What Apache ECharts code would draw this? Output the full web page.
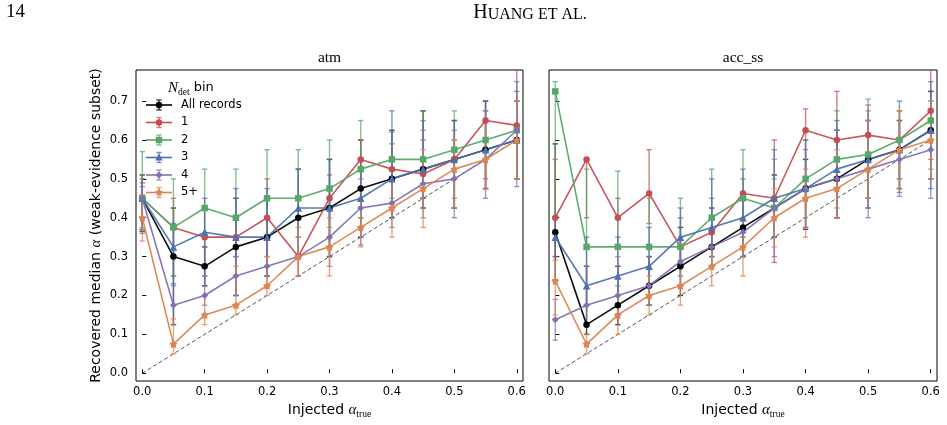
<!DOCTYPE html>
<html>
<head>
<meta charset="utf-8">
<script src="https://cdn.jsdelivr.net/npm/echarts@6/dist/echarts.min.js"></script>
<style>
html,body{margin:0;padding:0;background:#fff;}
#chart{width:947px;height:425px;}
</style>
</head>
<body>
<div id="chart"></div>
<script>
// ---------------- DATA ----------------
const xVals = [0.0, 0.05, 0.1, 0.15, 0.2, 0.25, 0.3, 0.35, 0.4, 0.45, 0.5, 0.55, 0.6];
const seriesNames = ['All records', '1', '2', '3', '4', '5+'];
const panelTitles = ['atm', 'acc_ss'];
const yTicks = [0.0, 0.1, 0.2, 0.3, 0.4, 0.5, 0.6, 0.7];
const xTicks = [0.0, 0.1, 0.2, 0.3, 0.4, 0.5, 0.6];
const identityLine = [[0, 0], [0.6, 0.6]];

// panel "atm"
const atmAll   = [0.45, 0.30, 0.275, 0.325, 0.35, 0.40, 0.425, 0.475, 0.50, 0.525, 0.55, 0.575, 0.60];
const atmAllLo = [0.365, 0.125, 0.225, 0.20, 0.25, 0.30, 0.30, 0.35, 0.40, 0.425, 0.425, 0.475, 0.50];
const atmAllHi = [0.51, 0.425, 0.325, 0.45, 0.45, 0.525, 0.55, 0.60, 0.625, 0.675, 0.65, 0.70, 0.70];
const atm1   = [0.45, 0.375, 0.35, 0.35, 0.40, 0.30, 0.45, 0.55, 0.525, 0.5125, 0.55, 0.65, 0.6375];
const atm1Lo = [0.37, 0.25, 0.25, 0.30, 0.30, 0.25, 0.30, 0.40, 0.425, 0.45, 0.425, 0.50, 0.50];
const atm1Hi = [0.50, 0.45, 0.425, 0.40, 0.50, 0.40, 0.51, 0.60, 0.59, 0.60, 0.60, 0.675, 0.80];
const atm2   = [0.45, 0.375, 0.425, 0.40, 0.45, 0.45, 0.475, 0.525, 0.55, 0.55, 0.575, 0.60, 0.625];
const atm2Lo = [0.375, 0.25, 0.325, 0.35, 0.35, 0.35, 0.375, 0.40, 0.45, 0.45, 0.45, 0.475, 0.50];
const atm2Hi = [0.57, 0.50, 0.525, 0.525, 0.575, 0.575, 0.60, 0.65, 0.62, 0.675, 0.675, 0.65, 0.70];
const atm3   = [0.45, 0.325, 0.3625, 0.35, 0.35, 0.425, 0.425, 0.45, 0.50, 0.525, 0.55, 0.575, 0.60];
const atm3Lo = [0.36, 0.23, 0.225, 0.20, 0.25, 0.30, 0.325, 0.35, 0.40, 0.45, 0.425, 0.475, 0.50];
const atm3Hi = [0.49, 0.385, 0.45, 0.475, 0.475, 0.525, 0.55, 0.55, 0.675, 0.65, 0.65, 0.70, 0.725];
const atm4   = [0.45, 0.175, 0.20, 0.25, 0.275, 0.30, 0.35, 0.425, 0.4375, 0.4875, 0.50, 0.55, 0.625];
const atm4Lo = [0.37, 0.125, 0.175, 0.20, 0.225, 0.25, 0.275, 0.33, 0.375, 0.40, 0.40, 0.45, 0.48];
const atm4Hi = [0.48, 0.225, 0.25, 0.30, 0.35, 0.35, 0.425, 0.50, 0.55, 0.625, 0.625, 0.675, 0.75];
const atm5   = [0.40, 0.075, 0.15, 0.175, 0.225, 0.30, 0.325, 0.375, 0.425, 0.475, 0.525, 0.55, 0.60];
const atm5Lo = [0.34, 0.05, 0.125, 0.15, 0.20, 0.25, 0.25, 0.325, 0.35, 0.375, 0.425, 0.475, 0.50];
const atm5Hi = [0.46, 0.14, 0.20, 0.275, 0.30, 0.375, 0.40, 0.45, 0.50, 0.575, 0.60, 0.65, 0.70];

// panel "acc_ss"
const accAll   = [0.3625, 0.125, 0.175, 0.225, 0.275, 0.325, 0.375, 0.425, 0.475, 0.50, 0.55, 0.575, 0.625];
const accAllLo = [0.24, 0.10, 0.125, 0.175, 0.20, 0.275, 0.30, 0.35, 0.37, 0.40, 0.45, 0.475, 0.50];
const accAllHi = [0.59, 0.275, 0.275, 0.30, 0.375, 0.425, 0.45, 0.51, 0.55, 0.625, 0.65, 0.65, 0.725];
const acc1   = [0.40, 0.55, 0.40, 0.4625, 0.325, 0.3625, 0.4625, 0.45, 0.625, 0.60, 0.6125, 0.60, 0.675];
const acc1Lo = [0.30, 0.40, 0.325, 0.385, 0.275, 0.30, 0.35, 0.285, 0.45, 0.40, 0.425, 0.50, 0.55];
const acc1Hi = [0.55, 0.55, 0.45, 0.575, 0.40, 0.45, 0.50, 0.60, 0.68, 0.725, 0.69, 0.675, 0.80];
const acc2   = [0.725, 0.325, 0.325, 0.325, 0.325, 0.40, 0.45, 0.425, 0.50, 0.55, 0.5625, 0.60, 0.65];
const acc2Lo = [0.40, 0.175, 0.225, 0.225, 0.275, 0.30, 0.35, 0.35, 0.40, 0.425, 0.45, 0.50, 0.525];
const acc2Hi = [0.75, 0.525, 0.52, 0.45, 0.45, 0.525, 0.575, 0.50, 0.60, 0.675, 0.705, 0.675, 0.70];
const acc3   = [0.35, 0.225, 0.25, 0.275, 0.35, 0.375, 0.40, 0.45, 0.475, 0.525, 0.55, 0.575, 0.625];
const acc3Lo = [0.30, 0.175, 0.175, 0.20, 0.25, 0.30, 0.30, 0.35, 0.375, 0.40, 0.425, 0.465, 0.475];
const acc3Hi = [0.40, 0.35, 0.35, 0.375, 0.425, 0.50, 0.525, 0.575, 0.60, 0.65, 0.65, 0.70, 0.75];
const acc4   = [0.1375, 0.175, 0.20, 0.225, 0.2875, 0.325, 0.3625, 0.425, 0.475, 0.50, 0.525, 0.55, 0.575];
const acc4Lo = [0.085, 0.125, 0.15, 0.175, 0.225, 0.275, 0.30, 0.30, 0.375, 0.40, 0.40, 0.455, 0.45];
const acc4Hi = [0.19, 0.275, 0.30, 0.30, 0.35, 0.40, 0.45, 0.55, 0.575, 0.625, 0.675, 0.65, 0.65];
const acc5   = [0.2375, 0.075, 0.15, 0.20, 0.225, 0.275, 0.325, 0.40, 0.45, 0.475, 0.525, 0.575, 0.60];
const acc5Lo = [0.15, 0.05, 0.10, 0.15, 0.175, 0.225, 0.25, 0.325, 0.35, 0.40, 0.45, 0.475, 0.50];
const acc5Hi = [0.29, 0.10, 0.20, 0.25, 0.275, 0.325, 0.40, 0.475, 0.525, 0.575, 0.65, 0.675, 0.70];

const panels = [
  { vals: [atmAll, atm1, atm2, atm3, atm4, atm5], lo: [atmAllLo, atm1Lo, atm2Lo, atm3Lo, atm4Lo, atm5Lo], hi: [atmAllHi, atm1Hi, atm2Hi, atm3Hi, atm4Hi, atm5Hi] },
  { vals: [accAll, acc1, acc2, acc3, acc4, acc5], lo: [accAllLo, acc1Lo, acc2Lo, acc3Lo, acc4Lo, acc5Lo], hi: [accAllHi, acc1Hi, acc2Hi, acc3Hi, acc4Hi, acc5Hi] }
];

// ---------------- STYLE ----------------
const COLORS = ['#000000', '#C44E52', '#55A868', '#4C72B0', '#8172B2', '#DD8452'];
const STAR_INNER = 0.6;
function starPath() {
  let p = '';
  for (let k = 0; k < 10; k++) {
    const r = k % 2 === 0 ? 1 : STAR_INNER;
    const a = -Math.PI / 2 + k * Math.PI / 5;
    p += (k === 0 ? 'M' : 'L') + (r * Math.cos(a)).toFixed(3) + ',' + (r * Math.sin(a)).toFixed(3);
  }
  return 'path://' + p + 'Z';
}
const SYMBOLS = ['circle', 'circle', 'rect', 'triangle', 'path://M0,-1L1,0L0,1L-1,0Z', starPath()];
const SYMSIZE = [6.5, 6.5, 6.5, 7.5, 7, 8];
const SANS = 'DejaVu Sans';
const SERIF = 'Liberation Serif';

const grids = [
  { left: 136, top: 70, width: 387, height: 311 },
  { left: 549, top: 70, width: 388, height: 311 }
];

const chart = echarts.init(document.getElementById('chart'), null, { renderer: 'canvas' });

const xAxes = [], yAxes = [], series = [];
grids.forEach((g, gi) => {
  g.show = true; g.borderColor = '#000'; g.borderWidth = 1; g.backgroundColor = 'transparent';
  xAxes.push({
    type: 'value', gridIndex: gi, min: -0.01, max: 0.61,
    splitLine: { show: false },
    axisLine: { show: false },
    axisTick: { show: true, inside: true, length: 4, lineStyle: { color: '#000', width: 1 }, customValues: xTicks },
    axisLabel: { show: true, color: '#000', fontFamily: SANS, fontSize: 11.5, margin: 5, customValues: xTicks,
      formatter: v => v.toFixed(1) },
    name: '{n|Injected }{a|α}{s|true}', nameLocation: 'middle', nameGap: 19,
    nameTextStyle: {
      rich: {
        n: { fontFamily: SANS, fontSize: 14, color: '#000', lineHeight: 18 },
        a: { fontFamily: SERIF, fontStyle: 'italic', fontSize: 15, color: '#000', lineHeight: 18 },
        s: { fontFamily: SERIF, fontSize: 9.5, color: '#000', verticalAlign: 'bottom', lineHeight: 12, padding: [6, 0, 0, 0] }
      }
    }
  });
  yAxes.push({
    type: 'value', gridIndex: gi, min: -0.02, max: 0.78,
    splitLine: { show: false },
    axisLine: { show: false },
    axisTick: { show: true, inside: true, length: 4, lineStyle: { color: '#000', width: 1 }, customValues: yTicks },
    axisLabel: { show: gi === 0, color: '#000', fontFamily: SANS, fontSize: 11.5, margin: 8, customValues: yTicks,
      formatter: v => v.toFixed(1) },
    name: gi === 0 ? '{n|Recovered median }{a|α}{n| (weak-evidence subset)}' : '',
    nameLocation: 'middle', nameRotate: 90, nameGap: 32,
    nameTextStyle: {
      rich: {
        n: { fontFamily: SANS, fontSize: 14, color: '#000' },
        a: { fontFamily: SERIF, fontStyle: 'italic', fontSize: 15, color: '#000' }
      }
    }
  });

  // identity dashed line
  series.push({
    type: 'line', xAxisIndex: gi, yAxisIndex: gi, data: identityLine, symbol: 'none', silent: true,
    lineStyle: { color: '#555', width: 1, type: [4, 2.5] }, z: 1
  });

  const P = panels[gi];
  for (let s = 0; s < 6; s++) {
    const color = COLORS[s];
    const errData = xVals.map((x, i) => [x, P.lo[s][i], P.hi[s][i]]);
    series.push({
      type: 'custom', name: seriesNames[s], xAxisIndex: gi, yAxisIndex: gi, z: 2,
      data: errData, encode: { x: 0, y: [1, 2] }, silent: true,
      renderItem: (params, api) => {
        const cs = params.coordSys;
        const x = api.value(0);
        const pLo = api.coord([x, api.value(1)]);
        const pHi = api.coord([x, api.value(2)]);
        let yTop = pHi[1], clipped = false;
        if (yTop < cs.y) { yTop = cs.y; clipped = true; }
        const cw = 2.7;
        const st = { stroke: color, lineWidth: 1.4, opacity: 0.72 };
        const ch = [
          { type: 'line', shape: { x1: pLo[0], y1: pLo[1], x2: pLo[0], y2: yTop }, style: st },
          { type: 'line', shape: { x1: pLo[0] - cw, y1: pLo[1], x2: pLo[0] + cw, y2: pLo[1] }, style: st }
        ];
        if (!clipped) ch.push({ type: 'line', shape: { x1: pHi[0] - cw, y1: yTop, x2: pHi[0] + cw, y2: yTop }, style: st });
        return { type: 'group', children: ch };
      }
    });
    series.push({
      type: 'line', name: seriesNames[s], xAxisIndex: gi, yAxisIndex: gi, z: 2,
      data: xVals.map((x, i) => [x, P.vals[s][i]]),
      symbol: SYMBOLS[s], symbolSize: SYMSIZE[s], showAllSymbol: true,
      lineStyle: { color: color, width: 1.6, opacity: 0.95 },
      itemStyle: { color: color, opacity: 1 },
      emphasis: { disabled: true }, animation: false
    });
  }
});

// ---------------- GRAPHIC: header, panel titles, legend ----------------
const graphic = [];
graphic.push({ type: 'text', x: 6, y: 12, style: { text: '14', fontFamily: SERIF, fontSize: 19, fill: '#000', verticalAlign: 'middle' } });
graphic.push({ type: 'text', x: 530, y: 13, style: {
  text: '{b|H}{s|UANG ET AL.}', align: 'center', verticalAlign: 'middle',
  rich: { b: { fontFamily: SERIF, fontSize: 20, fill: '#000', verticalAlign: 'bottom' }, s: { fontFamily: SERIF, fontSize: 16, fill: '#000', verticalAlign: 'bottom' } }
} });
panelTitles.forEach((t, gi) => {
  const g = grids[gi];
  graphic.push({ type: 'text', x: g.left + g.width / 2, y: 58, style: { text: t, fontFamily: SERIF, fontSize: 15.5, fill: '#000', align: 'center', verticalAlign: 'middle' } });
});

// legend
graphic.push({ type: 'text', x: 168, y: 88, style: {
  text: '{N|N}{d|det}{b| bin}', verticalAlign: 'middle', align: 'left',
  rich: {
    N: { fontFamily: SERIF, fontStyle: 'italic', fontSize: 15, fill: '#000', lineHeight: 18 },
    d: { fontFamily: SERIF, fontSize: 9.5, fill: '#000', verticalAlign: 'bottom', lineHeight: 14, padding: [5, 0, 0, 0] },
    b: { fontFamily: SANS, fontSize: 13, fill: '#000', lineHeight: 18 }
  }
} });
const legRows = [105, 122.5, 140, 157.5, 175, 192.5];
function markerShape(s, cx, cy, color) {
  const st = { fill: color };
  if (s <= 1) return { type: 'circle', shape: { cx, cy, r: 3.2 }, style: st };
  if (s === 2) return { type: 'rect', shape: { x: cx - 3.2, y: cy - 3.2, width: 6.4, height: 6.4 }, style: st };
  if (s === 3) return { type: 'polygon', shape: { points: [[cx, cy - 4], [cx + 3.8, cy + 3], [cx - 3.8, cy + 3]] }, style: st };
  if (s === 4) return { type: 'polygon', shape: { points: [[cx, cy - 3.6], [cx + 3.6, cy], [cx, cy + 3.6], [cx - 3.6, cy]] }, style: st };
  const pts = [];
  for (let k = 0; k < 10; k++) {
    const r = k % 2 === 0 ? 4 : 4 * STAR_INNER;
    const a = -Math.PI / 2 + k * Math.PI / 5;
    pts.push([cx + r * Math.cos(a), cy + r * Math.sin(a)]);
  }
  return { type: 'polygon', shape: { points: pts }, style: st };
}
seriesNames.forEach((nm, s) => {
  const y = legRows[s], c = COLORS[s], cx = 159;
  const est = { stroke: c, lineWidth: 1.4, opacity: 0.72 };
  graphic.push({ type: 'line', shape: { x1: 146, y1: y, x2: 172, y2: y }, style: { stroke: c, lineWidth: 1.6 } });
  graphic.push({ type: 'line', shape: { x1: cx, y1: y - 5, x2: cx, y2: y + 5 }, style: est });
  graphic.push({ type: 'line', shape: { x1: cx - 2.7, y1: y - 5, x2: cx + 2.7, y2: y - 5 }, style: est });
  graphic.push({ type: 'line', shape: { x1: cx - 2.7, y1: y + 5, x2: cx + 2.7, y2: y + 5 }, style: est });
  graphic.push(markerShape(s, cx, y, c));
  graphic.push({ type: 'text', x: 181, y: y, style: { text: nm, fontFamily: SANS, fontSize: 11.5, fill: '#000', verticalAlign: 'middle' } });
});

chart.setOption({
  animation: false,
  backgroundColor: '#fff',
  grid: grids,
  xAxis: xAxes,
  yAxis: yAxes,
  series: series,
  graphic: graphic
});
</script>
</body>
</html>
